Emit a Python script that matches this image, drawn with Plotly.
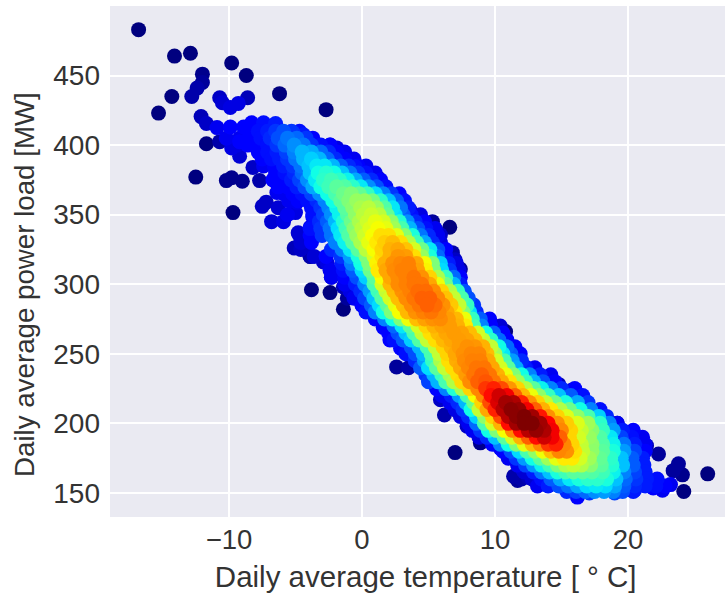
import plotly.graph_objects as go

# Isolated points: temperature, load, density
edge_temp = [-16.8,-14.1,-12.9,-9.8,-8.7,-12.0,-12.0,-12.4,-12.8,-14.3,-15.3,-6.2,-2.7,-10.7,-10.5,-9.9,-9.3,-8.6,-12.1,-11.7,-11.7,-10.7,-12.5,-10.2,-9.8,-9.0,-7.7,-9.7,
 -10.9,-9.9,-8.9,-8.3,-7.4,-6.5,-10.2,-9.2,-9.8,-9.2,-8.2,-7.7,-7.3,-6.4,-6.4,-7.2,-7.5,-6.3,-6.8,-5.9,-5.0,-4.9,-4.9,-4.8,-3.9,-5.1,-3.9,-4.1,-3.7,
 -5.2,-4.4,-3.5,-2.4,-1.9,-0.5,0.0,1.2,1.7,2.9,3.6,5.3,6.6,5.5,5.9,5.5,6.8,7.0,7.4,6.4,7.6,8.3,10.8,9.8,8.9,
 -3.8,-2.4,-1.4,-1.1,-2.3,-3.9,-2.9,0.0,-1.4,1.6,2.1,2.9,2.6,3.5,
 7.0,8.9,7.9,6.2,7.0,5.9,8.6,10.4,11.5,11.4,11.7,12.5,12.1,13.6,14.5,16.2,15.4,17.1,19.0,20.5,21.9,22.6,23.2,24.2,26.0,24.1,23.8,23.4,22.3,21.4,19.2,19.4,20.7,20.9,22.0,19.9,
 11.5,11.9,12.4,13.4,14.8,15.8,15.4,16.6,17.1,18.1]
edge_load = [483,464,466,459,450,451,445,441,435,435,423,437,425.5,434,430.5,427,430,434,420.5,415.5,401,402.5,377,374.5,376.5,374,374.5,351.5,
 412.6,413,413,416,416,415.5,405,402.5,398,392,384,395,388,376.6,366,359,356,355,345,345,351.5,359,369,337,341,326,320,328,348.5,
 409,407.5,397,400,398,384.5,377,376.6,369,362,353.6,345,341,338,335.6,332,322.7,317.6,311,314,291,284,266,265,273,
 296,294,282,290,305,320,316,285,298,269,260,254,240.6,240,
 179,186,198,206,210,217,194,182,174,162,159,161.5,166.5,157,159,147,154.5,150,150,152,153.6,152,156,151,163.7,163,171,166,178,184,200,190,182,171.6,159,161.5,
 254,246,240,233,228,224,219,210,200,193]
edge_dens = [0,0,0,0,0,0.01,0.02,0.03,0.03,0,0,0,0,0.05,0.06,0.07,0.07,0.04,0.04,0.05,0,0.03,0,0.01,0.01,0.01,0.03,0,
 0.08,0.09,0.1,0.1,0.11,0.12,0.08,0.09,0.07,0.06,0.05,0.08,0.08,0.08,0.08,0.05,0.05,0.06,0.06,0.07,0.07,0.08,0.09,0.06,0.08,0.04,0.02,0.05,0.1,
 0.14,0.12,0.1,0.07,0.07,0.11,0.1,0.02,0.05,0.07,0.07,0.02,0,0.02,0.05,0.08,0.03,0.05,0.02,0.05,0.1,0.09,0,0.05,0.1,
 0,0,0,0.02,0.05,0.03,0.05,0.08,0.04,0.09,0.1,0.09,0.02,0.03,
 0,0.01,0.05,0.03,0.04,0.05,0.06,0.08,0.05,0.03,0.02,0.04,0.06,0.07,0.1,0.1,0.12,0.14,0.15,0.12,0.1,0.08,0.08,0,0,0.01,0.02,0.02,0.02,0.04,0.01,0.08,0.1,0.1,0.1,0.15,
 0.04,0.08,0.09,0.08,0.04,0.05,0.09,0.08,0.1,0.13]

# Rows across the band: (temperature, density) at a given load
row_410 = [(-8.5,.1),(-7.8,.11),(-7.1,.12),(-6.5,.14),(-5.9,.16),(-5.3,.14),(-4.7,.11)]
row_405 = [(-9.2,.08),(-8.4,.1),(-7.6,.11),(-6.9,.13),(-6.3,.16),(-5.6,.19),(-4.9,.18),(-4.2,.14),(-3.7,.1)]
row_400 = [(-9.4,.07),(-8.6,.09),(-7.8,.1),(-7.1,.11),(-6.4,.14),(-5.8,.18),(-5.1,.21),(-4.4,.19),(-3.8,.14),(-3.1,.11),(-2.4,.09)]
row_395 = [(-7.8,.09),(-7.1,.11),(-6.4,.12),(-5.7,.15),(-5.1,.2),(-4.5,.24),(-3.8,.23),(-3.1,.18),(-2.5,.13),(-1.9,.1),(-1.3,.08)]
row_390 = [(-7.5,.09),(-6.8,.11),(-6.2,.12),(-5.6,.14),(-5,.19),(-4.4,.24),(-3.8,.26),(-3.2,.24),(-2.6,.18),(-2,.13),(-1.3,.1),(-0.6,.08)]
row_385 = [(-7.4,.08),(-6.6,.1),(-5.9,.12),(-5.2,.14),(-4.6,.19),(-4,.25),(-3.4,.28),(-2.8,.28),(-2.2,.24),(-1.6,.17),(-1,.13),(-0.3,.1),(0.3,.08)]
row_380 = [(-6.5,.1),(-5.8,.11),(-5.1,.13),(-4.5,.18),(-3.9,.25),(-3.3,.3),(-2.7,.32),(-2.1,.3),(-1.5,.25),(-0.9,.19),(-0.3,.14),(0.3,.11),(1,.08)]
row_375 = [(-6.7,.09),(-6,.1),(-5.3,.12),(-4.7,.15),(-4.1,.21),(-3.5,.28),(-2.9,.33),(-2.3,.35),(-1.7,.33),(-1.1,.29),(-0.5,.23),(0.1,.17),(0.7,.13),(1.4,.1)]
row_370 = [(-6.3,.09),(-5.6,.1),(-4.9,.12),(-4.3,.16),(-3.7,.23),(-3.1,.3),(-2.5,.35),(-1.9,.38),(-1.3,.37),(-0.7,.33),(-0.1,.28),(0.5,.21),(1.1,.16),(1.8,.11)]
row_365 = [(-5.9,.08),(-5.2,.1),(-4.5,.11),(-3.8,.15),(-3.2,.21),(-2.6,.3),(-2,.36),(-1.4,.4),(-0.8,.42),(-0.2,.39),(0.4,.34),(1,.27),(1.6,.2),(2.2,.14),(2.8,.1)]
row_360 = [(-5.5,.08),(-4.8,.1),(-4.1,.11),(-3.4,.13),(-2.8,.2),(-2.2,.3),(-1.6,.38),(-1,.42),(-0.4,.45),(0.2,.45),(0.8,.41),(1.4,.33),(2,.25),(2.6,.17),(3.2,.11)]
row_355 = [(-3.8,.11),(-3.1,.14),(-2.5,.2),(-1.9,.29),(-1.3,.38),(-0.7,.43),(-0.1,.47),(0.5,.49),(1.1,.45),(1.7,.37),(2.3,.28),(2.9,.19),(3.5,.12)]
row_350 = [(-5.6,.08),(-3.7,.11),(-2.9,.15),(-2.3,.21),(-1.7,.29),(-1.1,.37),(-0.5,.44),(0.1,.49),(0.7,.51),(1.3,.49),(1.9,.39),(2.5,.27),(3.1,.17),(3.7,.11),(4.4,.07)]
row_345 = [(-3.2,.13),(-2.6,.17),(-2,.24),(-1.4,.32),(-0.8,.4),(-0.2,.47),(0.4,.51),(1,.54),(1.6,.52),(2.2,.44),(2.8,.32),(3.4,.21),(4,.13),(4.7,.1)]
row_340 = [(-3.9,.11),(-3.1,.14),(-2.4,.19),(-1.8,.27),(-1.2,.35),(-0.6,.43),(0,.49),(0.6,.53),(1.2,.56),(1.8,.54),(2.4,.46),(3,.36),(3.6,.24),(4.2,.16),(4.8,.11),(5.5,.08)]
row_335 = [(-4.7,.06),(-3.9,.1),(-3,.14),(-2.3,.19),(-1.6,.28),(-1,.37),(-0.4,.45),(0.2,.51),(0.8,.56),(1.4,.6),(2,.6),(2.6,.54),(3.2,.43),(3.8,.31),(4.4,.19),(5,.13),(5.7,.08)]
row_330 = [(-4.6,.06),(-3.8,.09),(-2,.2),(-1.3,.29),(-0.7,.38),(-0.1,.47),(0.5,.54),(1.1,.58),(1.7,.63),(2.3,.66),(2.9,.6),(3.5,.48),(4.1,.35),(4.7,.23),(5.3,.13),(5.9,.07)]
row_325 = [(-4.6,.05),(-2.3,.13),(-1.5,.2),(-0.9,.28),(-0.3,.38),(0.3,.49),(0.9,.56),(1.5,.62),(2.1,.68),(2.7,.7),(3.3,.65),(3.9,.52),(4.5,.4),(5.1,.28),(5.7,.16),(6.3,.09)]
row_320 = [(-3.6,.06),(-2.7,.09),(-1.6,.14),(-0.9,.22),(-0.3,.31),(0.3,.42),(0.9,.52),(1.5,.6),(2.1,.68),(2.7,.73),(3.3,.72),(3.9,.6),(4.5,.45),(5.1,.31),(5.7,.18),(6.3,.1)]
row_315 = [(-2.6,.07),(-1.5,.12),(-0.8,.2),(-0.1,.3),(0.5,.42),(1.1,.57),(1.7,.68),(2.3,.74),(2.9,.76),(3.5,.77),(4.1,.7),(4.7,.56),(5.3,.42),(5.9,.26),(6.5,.12),(7.1,.07)]
row_310 = [(-2.4,.08),(-1.4,.11),(-0.7,.17),(0,.27),(0.6,.4),(1.2,.58),(1.8,.7),(2.4,.75),(3,.77),(3.6,.77),(4.2,.71),(4.8,.57),(5.4,.42),(6,.27),(6.6,.14),(7.3,.07)]
row_305 = [(-2.3,.08),(-1.3,.1),(-0.4,.16),(0.3,.26),(0.9,.38),(1.5,.56),(2.1,.7),(2.7,.75),(3.3,.77),(3.9,.78),(4.5,.74),(5.1,.62),(5.7,.47),(6.3,.34),(6.9,.18),(7.4,.09)]
row_300 = [(-1.3,.08),(-0.5,.12),(0.2,.2),(0.9,.36),(1.5,.52),(2.1,.67),(2.7,.75),(3.3,.77),(3.9,.78),(4.5,.78),(5.1,.7),(5.7,.55),(6.3,.4),(6.9,.24),(7.4,.12)]
row_295 = [(-0.9,.07),(-0.1,.13),(0.6,.22),(1.2,.35),(1.8,.5),(2.4,.66),(3,.74),(3.6,.77),(4.2,.79),(4.8,.79),(5.4,.75),(6,.62),(6.6,.48),(7.2,.34),(7.7,.16)]
row_290 = [(-0.6,.08),(0.2,.15),(0.9,.25),(1.5,.37),(2.1,.52),(2.7,.66),(3.3,.75),(3.9,.78),(4.5,.8),(5.1,.8),(5.7,.76),(6.3,.65),(6.9,.5),(7.5,.36),(8,.16)]
row_285 = [(0,.1),(0.7,.17),(1.3,.27),(1.9,.38),(2.5,.54),(3.1,.66),(3.7,.75),(4.3,.78),(4.9,.8),(5.5,.79),(6.1,.74),(6.7,.64),(7.3,.5),(7.9,.34),(8.4,.14)]
row_280 = [(0.3,.11),(1,.2),(1.6,.3),(2.2,.42),(2.8,.56),(3.4,.67),(4,.74),(4.6,.77),(5.2,.78),(5.8,.76),(6.4,.7),(7,.58),(7.6,.42),(8.1,.27),(8.6,.13)]
row_275 = [(1,.1),(1.7,.2),(2.3,.3),(2.9,.42),(3.5,.55),(4.1,.66),(4.7,.71),(5.3,.74),(5.9,.75),(6.5,.72),(7.1,.67),(7.7,.55),(8.3,.34),(8.9,.17),(9.6,.09)]
row_270 = [(1.7,.1),(2.4,.18),(3,.28),(3.6,.38),(4.2,.52),(4.8,.62),(5.4,.68),(6,.71),(6.6,.72),(7.2,.68),(7.8,.58),(8.4,.36),(9,.2),(9.7,.1),(10.4,.06)]
row_265 = [(2,.09),(2.7,.16),(3.3,.25),(3.9,.36),(4.5,.5),(5.1,.6),(5.7,.66),(6.3,.7),(6.9,.72),(7.5,.71),(8.1,.66),(8.7,.52),(9.3,.3),(9.9,.17),(10.6,.09)]
row_260 = [(2.4,.11),(3.1,.17),(3.7,.26),(4.3,.37),(4.9,.5),(5.5,.6),(6.1,.67),(6.7,.7),(7.3,.72),(7.9,.71),(8.5,.66),(9.1,.5),(9.7,.33),(10.3,.18),(10.9,.1)]
row_255 = [(3,.1),(3.7,.16),(4.3,.24),(4.9,.36),(5.5,.5),(6.1,.62),(6.7,.68),(7.3,.72),(7.9,.74),(8.5,.73),(9.1,.68),(9.7,.5),(10.3,.3),(10.9,.18),(11.5,.1)]
row_250 = [(3.3,.11),(4,.16),(4.6,.24),(5.2,.36),(5.8,.5),(6.4,.62),(7,.7),(7.6,.74),(8.2,.76),(8.8,.76),(9.4,.66),(10,.46),(10.6,.28),(11.2,.17),(11.9,.1)]
row_245 = [(4,.13),(4.7,.22),(5.3,.34),(5.9,.47),(6.5,.6),(7.1,.69),(7.7,.75),(8.3,.77),(8.9,.77),(9.5,.7),(10.1,.52),(10.7,.36),(11.3,.22),(12,.13)]
row_240 = [(4.4,.17),(5,.27),(5.6,.38),(6.2,.5),(6.8,.6),(7.4,.7),(8,.76),(8.6,.78),(9.2,.78),(9.8,.7),(10.4,.52),(11,.38),(11.6,.23),(12.3,.12),(13,.08)]
row_235 = [(4.8,.14),(5.4,.24),(6,.34),(6.6,.46),(7.2,.6),(7.8,.72),(8.4,.78),(9,.8),(9.6,.78),(10.2,.68),(10.8,.55),(11.4,.42),(12,.3),(12.6,.2),(13.4,.12),(14.2,.08)]
row_230 = [(5,.15),(5.7,.24),(6.3,.36),(6.9,.48),(7.5,.61),(8.1,.75),(8.7,.8),(9.3,.81),(9.9,.78),(10.5,.7),(11.1,.59),(11.7,.46),(12.3,.34),(12.9,.24),(13.6,.16),(14.5,.09)]
row_225 = [(5.6,.1),(6.3,.2),(6.9,.32),(7.5,.46),(8.1,.62),(8.7,.76),(9.3,.84),(9.9,.86),(10.5,.82),(11.1,.73),(11.7,.62),(12.3,.48),(12.9,.38),(13.5,.29),(14.2,.2),(15,.13),(16,.09)]
row_220 = [(6,.08),(6.7,.12),(7.3,.22),(7.9,.36),(8.5,.56),(9.1,.76),(9.7,.88),(10.3,.93),(10.9,.9),(11.5,.8),(12.1,.67),(12.7,.55),(13.3,.44),(14,.34),(14.8,.25),(15.7,.17),(16.6,.11)]
row_215 = [(6.6,.08),(7.2,.13),(7.8,.24),(8.4,.4),(9,.62),(9.6,.82),(10.2,.92),(10.8,.97),(11.4,.96),(12,.86),(12.6,.74),(13.2,.62),(13.8,.5),(14.5,.4),(15.3,.31),(16.2,.23),(17,.14)]
row_210 = [(7,.07),(7.6,.14),(8.2,.3),(8.8,.5),(9.4,.7),(10,.86),(10.6,.95),(11.2,.99),(11.8,.98),(12.4,.9),(13,.8),(13.6,.68),(14.2,.58),(14.9,.48),(15.6,.4),(16.4,.3),(17.2,.2),(17.9,.11)]
row_205 = [(7.4,.07),(8,.13),(8.6,.26),(9.2,.44),(9.8,.62),(10.4,.82),(11,.95),(11.6,.99),(12.2,1),(12.8,.97),(13.4,.87),(14,.74),(14.7,.62),(15.4,.53),(16.2,.44),(17,.36),(17.8,.26),(18.4,.13)]
row_200 = [(8,.08),(8.6,.18),(9.2,.36),(9.8,.52),(10.4,.68),(11,.88),(11.6,.97),(12.2,1),(12.8,1),(13.4,.97),(14,.89),(14.7,.74),(15.4,.63),(16.2,.53),(17,.46),(17.9,.33),(18.6,.2),(19.2,.08)]
row_195 = [(8.3,.08),(8.9,.14),(9.5,.3),(10.1,.42),(10.7,.56),(11.3,.75),(11.9,.88),(12.5,.95),(13.1,.98),(13.7,.96),(14.3,.9),(15,.76),(15.7,.62),(16.5,.5),(17.3,.43),(18.1,.34),(18.9,.22),(19.6,.12),(20.4,.1)]
row_190 = [(8.8,.07),(9.4,.13),(10,.25),(10.7,.38),(11.3,.52),(11.9,.68),(12.5,.8),(13.1,.88),(13.7,.93),(14.3,.9),(14.9,.8),(15.6,.62),(16.3,.52),(17.1,.45),(17.9,.37),(18.7,.28),(19.5,.15),(20.3,.11),(21.1,.08)]
row_185 = [(9.8,.1),(10.4,.2),(11,.3),(11.6,.42),(12.2,.54),(12.8,.66),(13.4,.76),(14,.84),(14.6,.86),(15.2,.76),(15.8,.62),(16.5,.5),(17.3,.44),(18.1,.37),(18.9,.29),(19.7,.19),(20.5,.12),(21.3,.08)]
row_180 = [(10.6,.09),(11.2,.16),(11.8,.27),(12.4,.36),(13,.44),(13.6,.55),(14.2,.66),(14.8,.76),(15.4,.74),(16,.6),(16.6,.5),(17.3,.44),(18.1,.38),(18.9,.31),(19.7,.22),(20.5,.15),(21.3,.1)]
row_175 = [(11,.08),(11.6,.14),(12.2,.22),(12.8,.3),(13.4,.38),(14,.46),(14.6,.54),(15.2,.58),(15.8,.58),(16.4,.52),(17.1,.46),(17.9,.39),(18.7,.33),(19.5,.25),(20.3,.17),(21.1,.12)]
row_170 = [(11.7,.08),(12.3,.15),(12.9,.22),(13.5,.29),(14.1,.35),(14.7,.42),(15.3,.48),(15.9,.5),(16.5,.48),(17.2,.43),(18,.38),(18.8,.32),(19.6,.25),(20.4,.17),(21.2,.12)]
row_165 = [(12.2,.06),(12.9,.12),(13.5,.19),(14.1,.25),(14.7,.31),(15.3,.35),(15.9,.38),(16.6,.38),(17.3,.37),(18.1,.35),(18.9,.29),(19.7,.2),(20.5,.15),(21.3,.12)]
row_160 = [(12,.03),(12.8,.06),(13.5,.11),(14.2,.17),(14.9,.23),(15.6,.28),(16.3,.31),(17,.33),(17.7,.33),(18.4,.31),(19.1,.25),(19.8,.18),(20.6,.14),(21.4,.12),(22.2,.11)]
row_155 = [(13.2,.08),(14,.12),(14.8,.16),(15.5,.19),(16.2,.23),(16.9,.27),(17.6,.28),(18.3,.27),(19,.23),(19.7,.17),(20.5,.13),(21.3,.12),(22.1,.11),(22.8,.09)]
row_151 = [(15.4,.13),(16.1,.15),(16.8,.18),(17.5,.21),(18.2,.22),(18.9,.2),(19.6,.16),(20.4,.12)]

rows = [(410,row_410),(405,row_405),(400,row_400),(395,row_395),(390,row_390),(385,row_385),(380,row_380),(375,row_375),
        (370,row_370),(365,row_365),(360,row_360),(355,row_355),(350,row_350),(345,row_345),(340,row_340),(335,row_335),
        (330,row_330),(325,row_325),(320,row_320),(315,row_315),(310,row_310),(305,row_305),(300,row_300),(295,row_295),
        (290,row_290),(285,row_285),(280,row_280),(275,row_275),(270,row_270),(265,row_265),(260,row_260),(255,row_255),
        (250,row_250),(245,row_245),(240,row_240),(235,row_235),(230,row_230),(225,row_225),(220,row_220),(215,row_215),
        (210,row_210),(205,row_205),(200,row_200),(195,row_195),(190,row_190),(185,row_185),(180,row_180),(175,row_175),
        (170,row_170),(165,row_165),(160,row_160),(155,row_155),(151,row_151)]

x_ticks = [-10, 0, 10, 20]
y_ticks = [150, 200, 250, 300, 350, 400, 450]

pts = list(zip(edge_temp, edge_load, edge_dens))
for load, row in rows:
    pts += [(t, load, d) for t, d in row]
pts.sort(key=lambda p: p[2])

jet = [[0,"#00007f"],[0.09,"#0000ff"],[0.1,"#0000ff"],[0.27,"#00dcff"],[0.3,"#10ffe6"],
       [0.42,"#7dff7a"],[0.56,"#f6ff00"],[0.58,"#ffea00"],[0.77,"#ff8000"],[0.89,"#ff0000"],[1,"#7f0000"]]

fig = go.Figure(go.Scatter(
    x=[p[0] for p in pts], y=[p[1] for p in pts], mode="markers",
    marker=dict(size=15, color=[p[2] for p in pts], colorscale=jet, cmin=0, cmax=1, line=dict(width=0)),
    hoverinfo="skip"))

font = "Liberation Sans, Arial, sans-serif"
axis = dict(showline=False, zeroline=False, showgrid=True, gridcolor="white", gridwidth=1.5, ticks="")
NB = "\u00a0"
ZW = "\u200b"
fig.update_layout(
    width=725, height=595, margin=dict(l=110, r=0, t=6, b=78), autosize=False,
    paper_bgcolor="white", plot_bgcolor="#EAEAF2", showlegend=False,
    xaxis=dict(axis, range=[-18.95, 27.3], tickmode="array", tickvals=x_ticks, ticktext=["\u221210", "0", "10", "20"],
               ticklabelstandoff=3, tickfont=dict(family=font, size=27.5, color="#333333"),
               title=dict(text=ZW + NB*2 + "Daily average temperature [ \u00b0 C]", font=dict(family=font, size=29.5, color="#333333"), standoff=12)),
    yaxis=dict(axis, range=[132.7, 500], tickmode="array", tickvals=y_ticks,
               ticklabelstandoff=9, tickfont=dict(family=font, size=28, color="#333333"),
               title=dict(text="Daily average power load [MW]" + NB*6 + ZW, font=dict(family=font, size=27.7, color="#333333"), standoff=10)),
)
fig.write_html("out.html", post_script="document.body.style.margin='0';", config={"displayModeBar": False})
